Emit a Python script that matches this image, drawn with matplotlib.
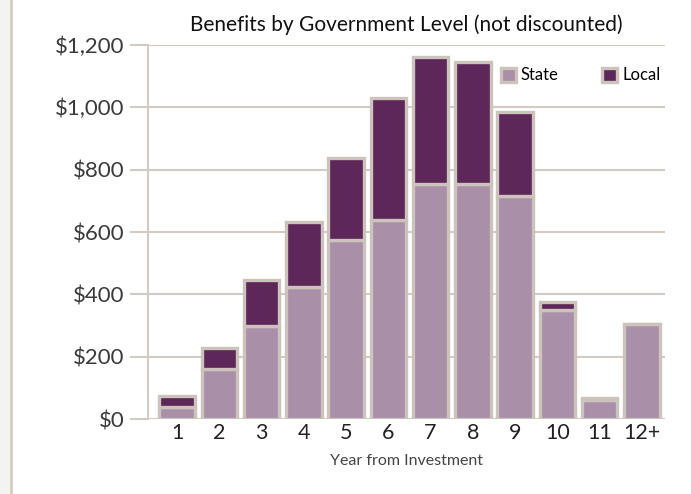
import matplotlib
matplotlib.use("Agg")
import matplotlib.pyplot as plt
import numpy as np
from matplotlib.patches import Rectangle
from matplotlib.lines import Line2D

plt.rcParams['font.family'] = ['Lato', 'DejaVu Sans']

years = ["1", "2", "3", "4", "5", "6", "7", "8", "9", "10", "11", "12+"]
state = np.array([38, 160, 300, 423, 573, 640, 755, 755, 717, 350, 60, 305])
local = np.array([37, 68, 147, 210, 265, 390, 408, 390, 268, 25, 8, 0])
yticks = [0, 200, 400, 600, 800, 1000, 1200]
ytick_labels = ["$0", "$200", "$400", "$600", "$800", "$1,000", "$1,200"]

state_color = "#A98FA7"
local_color = "#5E2759"
edge_color = "#CCC3BD"
grid_color = "#D3CAC4"

fig = plt.figure(figsize=(6.91, 4.94), dpi=100)
ax = fig.add_axes([0.2142, 0.1518, 0.9624 - 0.2142, 0.9089 - 0.1518])

# left page strip
fig.patches.append(Rectangle((0, 0), 10 / 691, 1, transform=fig.transFigure,
                             facecolor="#F3F3F1", edgecolor="none"))
fig.lines.append(Line2D([10.5 / 691, 10.5 / 691], [0, 1], transform=fig.transFigure,
                        color="#D5CCC6", lw=2))

x = np.arange(len(years))
ax.bar(x, state, width=0.84, color=state_color, edgecolor=edge_color, linewidth=2.4,
       label="State", zorder=3)
ax.bar(x, local, bottom=state, width=0.84, color=local_color, edgecolor=edge_color,
       linewidth=2.4, label="Local", zorder=3)

ax.set_ylim(0, 1200)
ax.set_xlim(-0.69, 11.55)
ax.set_yticks(yticks)
ax.set_yticklabels(ytick_labels, fontsize=16, color="#3a3a3a")
ax.set_xticks(x)
ax.set_xticklabels(years, fontsize=15.5, color="#222222")
ax.yaxis.grid(True, color=grid_color, lw=1.5, zorder=0)
ax.tick_params(axis="y", length=13, width=1.5, color=grid_color, pad=4)
ax.tick_params(axis="x", length=0, pad=3)
for s in ["top", "right", "bottom"]:
    ax.spines[s].set_visible(False)
ax.spines["left"].set_color(grid_color)
ax.spines["left"].set_linewidth(1.5)

ax.set_title("Benefits by Government Level (not discounted)", fontsize=15,
             color="#111111", pad=10)
ax.set_xlabel("Year from Investment", fontsize=11.5, color="#444444", labelpad=8)

leg = ax.legend(loc="upper right", ncol=2, frameon=False, fontsize=12,
                handlelength=0.9, handleheight=0.9, handletextpad=0.3,
                columnspacing=2.6, bbox_to_anchor=(1.02, 0.98))

fig.savefig("out.png", dpi=100)
